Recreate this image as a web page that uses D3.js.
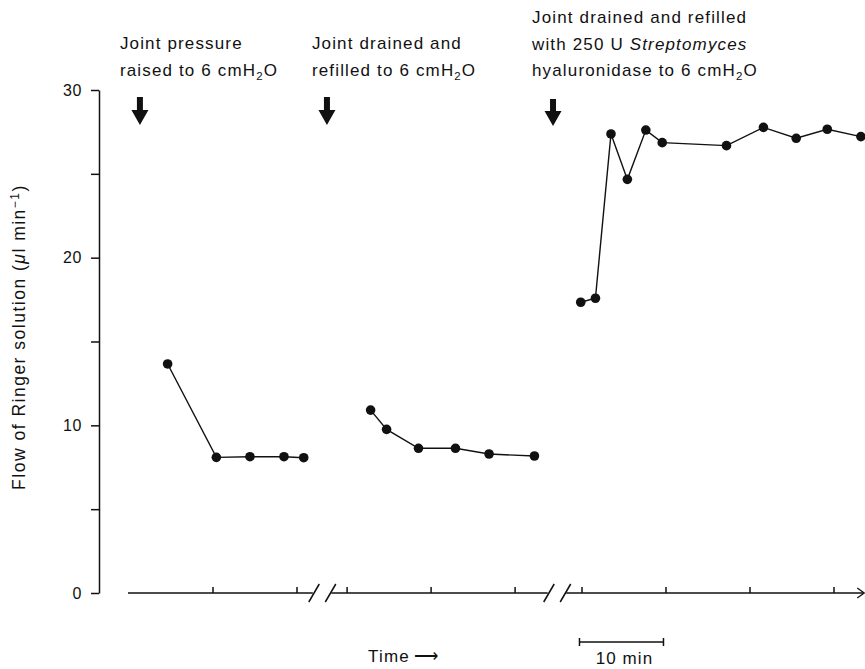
<!DOCTYPE html>
<html>
<head>
<meta charset="utf-8">
<script src="https://cdn.jsdelivr.net/npm/d3@7/dist/d3.min.js"></script>
<style>
  html, body { margin: 0; padding: 0; background: #fff; }
  svg { display: block; }
  text { font-family: "Liberation Sans", Arial, Helvetica, sans-serif; fill: #111; }
</style>
</head>
<body>
<svg id="chart" width="865" height="669"></svg>
<script>
// ---------------- DATA ----------------
// Time in minutes, local to each recording period (axis is broken between periods)
const period1Time = [4.6, 10.4, 14.4, 18.45, 20.8];
const period1Flow = [13.66, 8.09, 8.13, 8.13, 8.07];

const period2Time = [2.8, 4.7, 8.5, 12.9, 16.9, 22.3];
const period2Flow = [10.91, 9.76, 8.63, 8.63, 8.29, 8.17];

const period3Time = [-0.15, 1.6, 3.45, 5.4, 7.6, 9.55, 17.2, 21.6, 25.5, 29.2, 33.2];
const period3Flow = [17.34, 17.58, 27.38, 24.67, 27.61, 26.86, 26.68, 27.77, 27.12, 27.66, 27.22];

const periodDomains = [[0, 22], [-2, 24], [-2, 33.6]];
const periodTicks = [[10, 20], [0, 10, 20], [0, 10, 20, 30]];

const yTicks = [0, 5, 10, 15, 20, 25, 30];
const yTickLabels = ["0", "", "10", "", "20", "", "30"];

// Annotation: period index, time of arrow, text lines
const eventPeriod = [0, 1, 2];
const eventTime = [1.3, -2.4, -3.45];
const eventText = [
  [[{t: "Joint pressure"}], [{t: "raised to 6 cmH"}, {t: "2", sub: true}, {t: "O"}]],
  [[{t: "Joint drained and"}], [{t: "refilled to 6 cmH"}, {t: "2", sub: true}, {t: "O"}]],
  [[{t: "Joint drained and refilled"}],
   [{t: "with 250 U "}, {t: "Streptomyces", it: true}],
   [{t: "hyaluronidase to 6 cmH"}, {t: "2", sub: true}, {t: "O"}]]
];
const scaleBarMinutes = 10;

// ---------------- LAYOUT ----------------
const svg = d3.select("#chart");
const y = d3.scaleLinear().domain([0, 30]).range([593, 90]);
const pxPerMin = 8.4;
const xStart = 129;
const gap = 16.5;

const xScales = [];
let cursor = xStart;
periodDomains.forEach((d, i) => {
  const w = (d[1] - d[0]) * pxPerMin;
  xScales.push(d3.scaleLinear().domain(d).range([cursor, cursor + w]));
  cursor += w + gap;
});

const ink = "#111";

// ---------------- Y AXIS ----------------
const yAxis = d3.axisLeft(y).tickValues(yTicks)
  .tickFormat((d, i) => yTickLabels[i]).tickSize(8).tickSizeOuter(0).tickPadding(9);
const gy = svg.append("g").attr("transform", "translate(99,0)").call(yAxis);
gy.selectAll("path, line").attr("stroke", ink).attr("stroke-width", 1.5);
gy.selectAll("text").attr("font-size", 16).attr("fill", ink).attr("letter-spacing", 0.6)
  .attr("font-family", '"Liberation Sans", Arial, sans-serif');

// Y label
const yl = svg.append("text")
  .attr("transform", "translate(25,337) rotate(-90)")
  .attr("text-anchor", "middle").attr("font-size", 17.5).attr("letter-spacing", 1.5);
yl.append("tspan").text("Flow of Ringer solution (");
yl.append("tspan").attr("font-style", "italic").text("μ");
yl.append("tspan").text("l min");
yl.append("tspan").attr("font-size", 12).attr("dy", -6).text("−1");
yl.append("tspan").attr("dy", 6).text(")");

// ---------------- X AXIS (broken) ----------------
const axisY = y(0);
const gx = svg.append("g").attr("stroke", ink).attr("stroke-width", 1.5).attr("fill", "none");
xScales.forEach((xs, i) => {
  const [a, b] = xs.range();
  gx.append("line").attr("x1", i === 0 ? a - 1 : a + 1).attr("x2", b - 1)
    .attr("y1", axisY).attr("y2", axisY);
  periodTicks[i].forEach(t => {
    gx.append("line").attr("x1", xs(t)).attr("x2", xs(t))
      .attr("y1", axisY).attr("y2", axisY - 6);
  });
  // break slashes
  const ends = [];
  if (i > 0) ends.push(a);
  if (i < 2) ends.push(b);
  ends.forEach(e => {
    gx.append("line").attr("x1", e - 5).attr("y1", axisY + 9)
      .attr("x2", e + 5.5).attr("y2", axisY - 9);
  });
  if (i === 2) {
    gx.append("path").attr("d", `M${b - 7},${axisY - 5} L${b},${axisY} L${b - 7},${axisY + 5}`)
      .attr("stroke-width", 1.3);
  }
});

// Time label
const tl = svg.append("text").attr("x", 368).attr("y", 662).attr("font-size", 17).attr("letter-spacing", 1.2);
tl.append("tspan").text("Time");
tl.append("tspan").attr("dx", 4).attr("letter-spacing", 0).text("⟶");

// Scale bar (10 min) using period 3 scale
const sb0 = xScales[2](-0.3), sb1 = xScales[2](-0.3 + scaleBarMinutes);
const sbY = 642;
const gsb = svg.append("g").attr("stroke", ink).attr("stroke-width", 1.5);
gsb.append("line").attr("x1", sb0).attr("x2", sb1).attr("y1", sbY).attr("y2", sbY);
gsb.append("line").attr("x1", sb0).attr("x2", sb0).attr("y1", sbY - 4).attr("y2", sbY + 4);
gsb.append("line").attr("x1", sb1).attr("x2", sb1).attr("y1", sbY - 4).attr("y2", sbY + 4);
svg.append("text").attr("x", (sb0 + sb1) / 2 + 3).attr("y", 664).attr("text-anchor", "middle")
  .attr("font-size", 17).attr("letter-spacing", 1.1).text(scaleBarMinutes + " min");

// ---------------- DATA SERIES ----------------
const periods = [
  [period1Time, period1Flow],
  [period2Time, period2Flow],
  [period3Time, period3Flow]
];
periods.forEach(([ts, fs], i) => {
  const xs = xScales[i];
  const pts = ts.map((t, k) => [t, fs[k]]);
  const line = d3.line().x(d => xs(d[0])).y(d => y(d[1]));
  svg.append("path").datum(pts).attr("d", line)
    .attr("fill", "none").attr("stroke", ink).attr("stroke-width", 1.4);
  svg.selectAll(null).data(pts).enter().append("circle")
    .attr("cx", d => xs(d[0])).attr("cy", d => y(d[1])).attr("r", 4.8).attr("fill", ink);
});

// ---------------- ANNOTATIONS ----------------
const arrowTop = [97, 97, 99];
const arrowTip = [125, 125, 126];
const textLeftOffset = [-20, -15, -21];
const textFirstBaseline = [49, 49, 23];
const lineStep = [27, 27, 26.5];

eventTime.forEach((t, i) => {
  const ax = xScales[eventPeriod[i]](t);
  const top = arrowTop[i], tip = arrowTip[i];
  const headTop = tip - 15;
  svg.append("path")
    .attr("d", `M${ax - 3},${top} L${ax + 3},${top} L${ax + 3},${headTop} L${ax + 8.5},${headTop} L${ax},${tip} L${ax - 8.5},${headTop} L${ax - 3},${headTop} Z`)
    .attr("fill", ink);
  eventText[i].forEach((lineParts, li) => {
    const tx = svg.append("text").attr("x", ax + textLeftOffset[i])
      .attr("y", textFirstBaseline[i] + li * lineStep[i])
      .attr("font-size", 17).attr("letter-spacing", 1.15);
    lineParts.forEach((p, k) => {
      const ts = tx.append("tspan").text(p.t);
      if (p.it) ts.attr("font-style", "italic");
      if (p.sub) ts.attr("font-size", 11.5).attr("dy", 4);
      else if (k > 0 && lineParts[k - 1].sub) ts.attr("dy", -4);
    });
  });
});
</script>
</body>
</html>
